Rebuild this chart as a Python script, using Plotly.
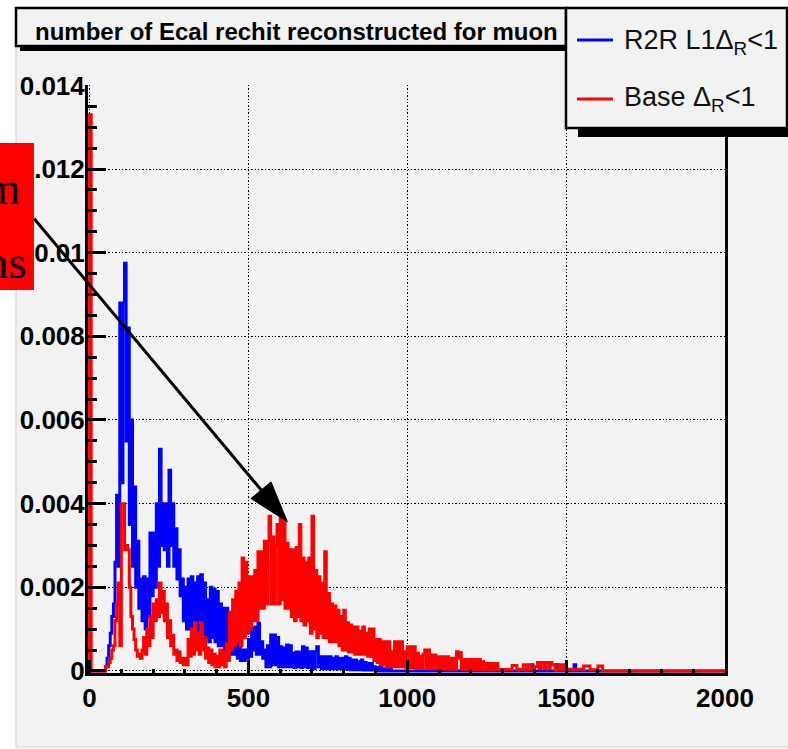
import numpy as np
import plotly.graph_objects as go

# Histogram binning: number of ECAL rechits per muon
bin_start = 0
bin_stop = 2000
bin_width = 5

# Fraction of muons per bin, in units of 1e-5
r2r_l1_e5 = [
    0, 0, 0, 0, 0, 0, 0, 0, 0, 0,
    10, 30, 60, 90, 130, 160, 260, 420, 250, 880,
    450, 880, 975, 550, 820, 350, 600, 250, 440, 200,
    310, 150, 220, 120, 225, 100, 220, 130, 330, 180,
    330, 200, 400, 250, 530, 300, 400, 290, 400, 250,
    480, 300, 400, 250, 340, 220, 290, 180, 220, 120,
    200, 100, 220, 100, 225, 90, 210, 80, 225, 90,
    230, 90, 210, 80, 170, 70, 200, 80, 195, 70,
    190, 60, 160, 60, 150, 50, 150, 50, 100, 40,
    90, 40, 65, 30, 60, 25, 50, 25, 50, 30,
    75, 35, 100, 50, 105, 40, 114, 40, 70, 30,
    50, 10, 60, 10, 86, 15, 86, 15, 80, 10,
    58, 10, 55, 10, 62, 10, 60, 10, 42, 8,
    45, 10, 45, 8, 58, 10, 55, 8, 46, 8,
    46, 5, 46, 58, 10, 34, 5, 34, 5, 34,
    5, 34, 5, 30, 5, 34, 5, 30, 5, 30,
    5, 34, 5, 30, 3, 26, 3, 26, 3, 22,
    3, 26, 2, 20, 2, 18, 2, 18, 2, 10,
    2, 8, 0, 10, 0, 5, 0, 8, 0, 4,
    0, 0, 0, 0, 0, 0, 0, 0, 0, 0,
    0, 0, 0, 0, 0, 0, 0, 0, 0, 0,
    0, 0, 0, 0, 0, 0, 0, 4, 0, 0,
    0, 4, 0, 0, 0, 0, 0, 0, 0, 0,
    0, 0, 0, 0, 0, 0, 0, 0, 0, 0,
    0, 0, 0, 0, 0, 0, 0, 0, 0, 0,
    0, 0, 0, 0, 0, 0, 0, 0, 0, 0,
    0, 0, 0, 0, 0, 0, 0, 0, 0, 0,
    0, 0, 0, 0, 0, 0, 0, 0, 15, 0,
    0, 0, 0, 0, 0, 0, 0, 0, 0, 0,
    0, 0, 0, 0, 15, 0, 0, 0, 0, 0,
    0, 0, 0, 0, 0, 15, 0, 0, 0, 0,
    0, 0, 0, 0, 0, 0, 0, 0, 0, 0,
    0, 0, 0, 0, 0, 0, 0, 0, 0, 0,
    0, 0, 0, 0, 0, 0, 0, 0, 0, 0,
    0, 0, 0, 0, 0, 0, 0, 0, 0, 0,
    0, 0, 0, 0, 0, 0, 0, 0, 0, 0,
    0, 0, 0, 0, 0, 0, 0, 0, 0, 0,
    0, 0, 0, 0, 0, 0, 0, 0, 0, 0,
    0, 0, 0, 0, 0, 0, 0, 0, 0, 0,
    0, 0, 0, 0, 0, 0, 0, 0, 0, 0,
]

base_e5 = [
    1330, 0, 0, 0, 0, 0, 0, 0, 0, 0,
    10, 10, 20, 30, 50, 60, 120, 160, 210, 60,
    400, 400, 290, 300, 290, 200, 130, 100, 75, 50,
    35, 40, 30, 50, 80, 40, 100, 60, 130, 80,
    160, 120, 170, 130, 210, 140, 190, 120, 160, 80,
    120, 60, 85, 40, 50, 25, 45, 20, 30, 15,
    30, 15, 75, 35, 100, 40, 115, 50, 90, 40,
    115, 50, 80, 30, 55, 20, 50, 15, 40, 10,
    35, 10, 50, 15, 45, 10, 65, 25, 140, 50,
    170, 60, 190, 70, 210, 60, 270, 80, 260, 90,
    225, 100, 225, 120, 240, 120, 285, 150, 285, 150,
    310, 160, 310, 370, 160, 320, 160, 300, 350, 160,
    365, 170, 360, 150, 305, 150, 290, 130, 290, 120,
    295, 130, 350, 120, 270, 110, 260, 120, 270, 90,
    370, 100, 240, 80, 225, 90, 210, 80, 285, 80,
    185, 70, 160, 70, 155, 70, 145, 60, 130, 50,
    145, 50, 115, 45, 110, 45, 105, 40, 105, 40,
    95, 40, 105, 40, 90, 35, 100, 35, 100, 25,
    75, 20, 75, 15, 70, 15, 70, 10, 70, 10,
    46, 10, 70, 10, 70, 10, 70, 10, 46, 8,
    58, 8, 58, 8, 58, 6, 42, 6, 35, 6,
    40, 50, 6, 50, 5, 38, 5, 38, 5, 34,
    4, 34, 4, 34, 4, 34, 4, 30, 4, 30,
    4, 46, 30, 44, 4, 27, 4, 27, 3, 27,
    3, 27, 3, 27, 3, 27, 3, 22, 18, 3,
    18, 3, 18, 2, 18, 2, 18, 2, 4, 3,
    4, 3, 4, 3, 4, 3, 13, 13, 13, 2,
    4, 4, 4, 15, 15, 2, 15, 15, 4, 4,
    10, 10, 20, 5, 20, 20, 5, 20, 20, 5,
    20, 15, 15, 2, 4, 15, 15, 2, 15, 15,
    4, 4, 4, 4, 4, 4, 4, 4, 4, 4,
    4, 12, 12, 12, 12, 3, 3, 3, 3, 3,
    12, 12, 12, 0, 0, 0, 0, 0, 0, 0,
    0, 0, 0, 0, 0, 0, 0, 0, 0, 0,
    0, 0, 0, 0, 0, 0, 0, 0, 0, 0,
    0, 0, 0, 0, 0, 0, 0, 0, 0, 0,
    0, 0, 0, 0, 0, 0, 0, 0, 0, 0,
    0, 0, 0, 0, 0, 0, 0, 0, 0, 0,
    0, 0, 0, 0, 0, 0, 0, 0, 0, 0,
    0, 0, 0, 0, 0, 0, 0, 0, 0, 0,
]

series_names = ["R2R L1Δ<sub>R</sub>&lt;1", "Base Δ<sub>R</sub>&lt;1"]
series_colors = ["#0000ff", "#ff0000"]

x_tick_vals = [0, 500, 1000, 1500, 2000]
x_tick_labels = ["0", "500", "1000", "1500", "2000"]
y_tick_vals = [0, 0.002, 0.004, 0.006, 0.008, 0.010, 0.012, 0.014]
y_tick_labels = ["0", "0.002", "0.004", "0.006", "0.008", "0.01", "0.012", "0.014"]

title_text = "number of Ecal rechit reconstructed for muon"
note_lines = ["m", "ns"]

# ---------------------------------------------------------------- geometry
W, H = 788, 749
PL, PR, PT, PB = 88, 725, 85, 673          # plot frame in pixels
CANVAS = "#f2f2f2"
SANS = "Liberation Sans, Arial, Helvetica, sans-serif"
SERIF = "Liberation Serif, Times New Roman, serif"


def px(X):
    return (X - PL) / (PR - PL)


def py(Y):
    return (PB - Y) / (PB - PT)


def outline(edges, vals):
    """Step outline of a histogram, closed to zero at both ends."""
    xs = np.repeat(edges, 2)
    ys = np.concatenate([[0.0], np.repeat(vals, 2), [0.0]])
    return xs, ys


edges = np.arange(bin_start, bin_stop + bin_width, bin_width)

fig = go.Figure()
for vals_e5, name, color in zip([r2r_l1_e5, base_e5], series_names, series_colors):
    xs, ys = outline(edges, np.asarray(vals_e5, dtype=float) * 1e-5)
    fig.add_trace(go.Scatter(
        x=xs, y=ys, mode="lines", name=name,
        line=dict(color=color, width=3),
        showlegend=False, hoverinfo="skip",
    ))

tick_font = dict(family=SANS, size=26, color="black", weight="bold")
grid = dict(showgrid=True, gridcolor="black", gridwidth=1.4, griddash="1.4px,2px")

fig.update_xaxes(
    range=[-5, 2000], tickmode="array", tickvals=x_tick_vals, ticktext=x_tick_labels,
    ticks="inside", ticklen=13, tickwidth=3, tickcolor="black",
    showline=True, linecolor="black", linewidth=3, mirror=False,
    zeroline=False, tickfont=tick_font,
    minor=dict(dtick=100, tick0=0, ticks="inside", ticklen=4, tickwidth=3,
               tickcolor="black", showgrid=False),
    **grid,
)
fig.update_yaxes(
    range=[-0.00005, 0.01401], tickmode="array", tickvals=y_tick_vals, ticktext=y_tick_labels,
    ticks="inside", ticklen=18, tickwidth=3, tickcolor="black",
    showline=True, linecolor="black", linewidth=3, mirror=True,
    zeroline=False, tickfont=tick_font, ticklabelstandoff=-5,
    minor=dict(dtick=0.0005, tick0=0, ticks="inside", ticklen=9, tickwidth=3,
               tickcolor="black", showgrid=False),
    **grid,
)


def rect(x0, y0, x1, y1, fill, line_color=None, line_width=0, layer="above"):
    return dict(type="rect", xref="paper", yref="paper",
                x0=px(x0), x1=px(x1), y0=py(y1), y1=py(y0),
                fillcolor=fill, layer=layer,
                line=dict(color=line_color or fill, width=line_width))


def seg(x0, y0, x1, y1, color, width):
    return dict(type="line", xref="paper", yref="paper",
                x0=px(x0), y0=py(y0), x1=px(x1), y1=py(y1),
                line=dict(color=color, width=width))


# arrow pointing at the Base peak
tip = (287.3, 521.7)
head_l = (251.0, 498.5)
head_r = (271.0, 481.9)
arrow_path = "M {} {} L {} {} L {} {} Z".format(
    px(tip[0]), py(tip[1]), px(head_l[0]), py(head_l[1]), px(head_r[0]), py(head_r[1]))

shapes = [
    rect(16, 8, 790, 747, CANVAS, "#cfcfcf", 1, layer="below"),
    # title box with shadow
    rect(20, 12, 570, 51, "black"),
    rect(16, 8, 566, 46, CANVAS, "black", 2.5),
    # legend box with shadow
    rect(578, 20, 800, 137, "black"),
    rect(566, 8, 787, 128, CANVAS, "black", 2.5),
    seg(577, 40, 613, 40, series_colors[0], 3),
    seg(577, 99, 613, 99, series_colors[1], 3),
    # red note box and arrow
    rect(-5, 143, 34, 290, "#ff0000"),
    seg(34, 218.5, 262, 491, "black", 3),
    dict(type="path", xref="paper", yref="paper", path=arrow_path,
         fillcolor="black", line=dict(color="black", width=1)),
]

annotations = [
    dict(text=title_text, x=px(296), y=py(31), xref="paper", yref="paper",
         xanchor="center", yanchor="middle", showarrow=False,
         font=dict(family=SANS, size=24, color="black", weight="bold")),
    dict(text=series_names[0], x=px(622), y=py(42), xref="paper", yref="paper",
         xanchor="left", yanchor="middle", showarrow=False,
         font=dict(family=SANS, size=27, color="#111111")),
    dict(text=series_names[1], x=px(622), y=py(99), xref="paper", yref="paper",
         xanchor="left", yanchor="middle", showarrow=False,
         font=dict(family=SANS, size=27, color="#111111")),
    dict(text=note_lines[0], x=px(23), y=py(188), xref="paper", yref="paper",
         xanchor="right", yanchor="middle", showarrow=False,
         font=dict(family=SERIF, size=47, color="black")),
    dict(text=note_lines[1], x=px(29), y=py(262), xref="paper", yref="paper",
         xanchor="right", yanchor="middle", showarrow=False,
         font=dict(family=SERIF, size=47, color="black")),
]

fig.update_layout(
    width=W, height=H, autosize=False,
    margin=dict(l=PL, r=W - PR, t=PT, b=H - PB, pad=0),
    paper_bgcolor="white", plot_bgcolor=CANVAS,
    showlegend=False, hovermode=False,
    shapes=shapes, annotations=annotations,
)

fig.write_html("out.html", config={"displayModeBar": False})
